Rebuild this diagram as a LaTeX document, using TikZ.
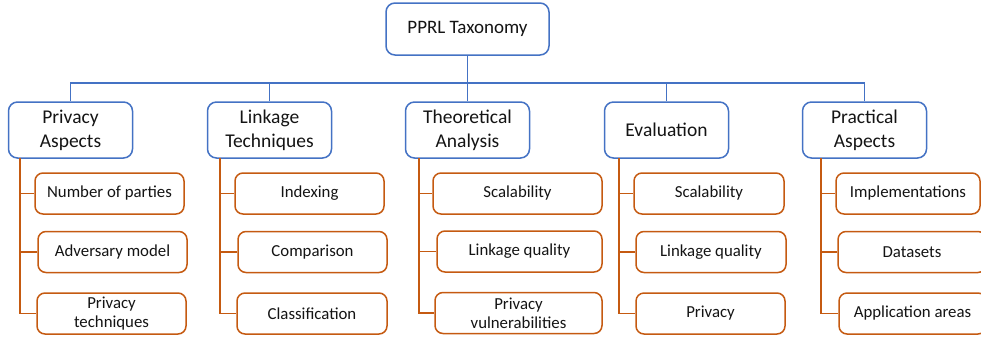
\documentclass[tikz,border=0pt]{standalone}
\usepackage{fontspec}
\setmainfont{Carlito}
\definecolor{ofblue}{RGB}{68,114,196}
\definecolor{oforange}{RGB}{197,90,17}
\definecolor{txtgray}{RGB}{20,20,20}
\begin{document}
\begin{tikzpicture}[x=1pt,y=-1pt,
  rootbox/.style={draw=ofblue,line width=1.5pt,rounded corners=9pt,fill=white,
    minimum width=163pt,minimum height=52pt,inner sep=0pt,align=center,
    text=txtgray,font=\fontsize{19}{24}\selectfont},
  catbox/.style={draw=ofblue,line width=1.5pt,rounded corners=9pt,fill=white,
    minimum width=124pt,minimum height=56pt,inner sep=0pt,align=center,
    text=txtgray,font=\fontsize{19.5}{24}\selectfont},
  leafbox/.style={draw=oforange,line width=1.5pt,rounded corners=8pt,fill=white,
    minimum height=41pt,inner sep=0pt,align=center,
    text=txtgray,font=\fontsize{16.8}{19}\selectfont},
  blueline/.style={draw=ofblue,line width=1.3pt},
  orangeline/.style={draw=oforange,line width=1.5pt}]
\useasboundingbox (0,0) rectangle (981,338);

% root and categories
\node[rootbox] (root) at (467.5,29) {PPRL Taxonomy};
\node[catbox] (pa) at (70.5,130) {Privacy\\Aspects};
\node[catbox] (lt) at (269.5,130) {Linkage\\Techniques};
\node[catbox] (ta) at (467.5,130) {Theoretical\\Analysis};
\node[catbox] (ev) at (666.5,130) {Evaluation};
\node[catbox] (pr) at (864.5,130) {Practical\\Aspects};

% tree connectors between root and categories
\coordinate (bus) at (467.5,83);
\draw[blueline] (root.south) -- (bus);
\draw[blueline] (bus) -| (pa.north);
\draw[blueline] (bus) -| (lt.north);
\draw[blueline] (bus) -- (ta.north);
\draw[blueline] (bus) -| (ev.north);
\draw[blueline] (bus) -| (pr.north);

% leaves
\node[leafbox,minimum width=149pt] (pa1) at (109.5,193.5) {Number of parties};
\node[leafbox,minimum width=149pt] (pa2) at (112.5,252) {Adversary model};
\node[leafbox,minimum width=149pt] (pa3) at (111.5,313.5) {Privacy\\techniques};

\node[leafbox,minimum width=149pt] (lt1) at (309.5,193.5) {Indexing};
\node[leafbox,minimum width=149pt] (lt2) at (312.5,252) {Comparison};
\node[leafbox,minimum width=150pt] (lt3) at (312,313.5) {Classification};

\node[leafbox,minimum width=169pt] (ta1) at (517.5,193.5) {Scalability};
\node[leafbox,minimum width=165pt] (ta2) at (519.5,251.5) {Linkage quality};
\node[leafbox,minimum width=167pt] (ta3) at (518.5,313) {Privacy\\vulnerabilities};

\node[leafbox,minimum width=150pt] (ev1) at (709,193.5) {Scalability};
\node[leafbox,minimum width=150pt] (ev2) at (711,252) {Linkage quality};
\node[leafbox,minimum width=149pt] (ev3) at (710.5,313.5) {Privacy};

\node[leafbox,minimum width=144pt] (pr1) at (908,193.5) {Implementations};
\node[leafbox,minimum width=148pt] (pr2) at (912,252) {Datasets};
\node[leafbox,minimum width=147pt] (pr3) at (912.5,313.5) {Application areas};

% branch points under each category
\coordinate (pav) at (20,158);
\coordinate (ltv) at (220,158);
\coordinate (tav) at (419,158);
\coordinate (evv) at (619,158);
\coordinate (prv) at (821,158);

\draw[orangeline] (pav) |- (pa1.west);
\draw[orangeline] (pav) |- (pa2.west);
\draw[orangeline] (pav) |- (pa3.west);
\draw[orangeline] (ltv) |- (lt1.west);
\draw[orangeline] (ltv) |- (lt2.west);
\draw[orangeline] (ltv) |- (lt3.west);
\draw[orangeline] (tav) |- (ta1.west);
\draw[orangeline] (tav) |- (ta2.west);
\draw[orangeline] (tav) |- (ta3.west);
\draw[orangeline] (evv) |- (ev1.west);
\draw[orangeline] (evv) |- (ev2.west);
\draw[orangeline] (evv) |- (ev3.west);
\draw[orangeline] (prv) |- (pr1.west);
\draw[orangeline] (prv) |- (pr2.west);
\draw[orangeline] (prv) |- (pr3.west);
\end{tikzpicture}
\end{document}
